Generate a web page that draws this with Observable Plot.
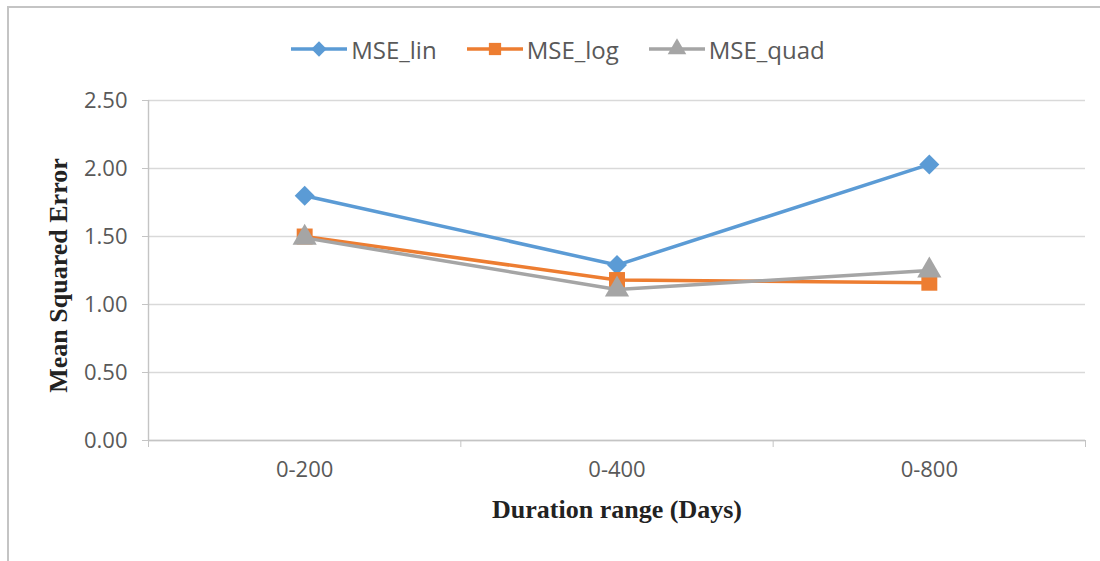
<!DOCTYPE html>
<html>
<head>
<meta charset="utf-8">
<script src="https://cdn.jsdelivr.net/npm/d3@7"></script>
<script src="https://cdn.jsdelivr.net/npm/@observablehq/plot@0.6"></script>
<style>
  html, body { margin: 0; padding: 0; background: #fff; }
  #wrap { position: relative; width: 1100px; height: 561px; overflow: hidden; background: #fff; }
  #frame { position: absolute; left: 7px; top: 6px; width: 1100px; height: 600px; border-left: 2px solid #c4c4c4; border-top: 2px solid #c4c4c4; box-sizing: border-box; }
  #chart { position: absolute; left: 0; top: 0; }
  #legend { position: absolute; left: 0; top: 31px; width: 1116px; display: flex; justify-content: center; gap: 30px;
            font-family: "Open Sans", sans-serif; font-size: 24px; color: #595959; }
  .item { display: flex; align-items: center; gap: 4px; height: 36px; }
  .item svg { display: block; }
</style>
</head>
<body>
<div id="wrap">
  <div id="frame"></div>
  <div id="chart"></div>
  <div id="legend"></div>
</div>
<script>
const categories = ["0-200", "0-400", "0-800"];
const seriesNames = ["MSE_lin", "MSE_log", "MSE_quad"];
const mseLin = [1.80, 1.29, 2.03];
const mseLog = [1.50, 1.18, 1.16];
const mseQuad = [1.49, 1.11, 1.25];
const yTicks = [0, 0.5, 1.0, 1.5, 2.0, 2.5];
const colors = ["#5b9bd5", "#ed7d31", "#a5a5a5"];
const symbols = ["diamond2", "square", "triangle"];

const seriesValues = [mseLin, mseLog, mseQuad];
const rows = [];
seriesNames.forEach((s, k) => seriesValues[k].forEach((v, i) => rows.push({series: s, i, cat: categories[i], value: v})));
const idx = d3.range(categories.length);
const bounds = d3.range(categories.length + 1).map(i => i - 0.5);

const marks = [
  Plot.gridY(yTicks, {stroke: "#d9d9d9", strokeOpacity: 1, strokeWidth: 1.4}),
  Plot.ruleX([-0.5], {y1: 0, y2: 2.5, stroke: "#c4c4c4", strokeWidth: 1.4}),
  Plot.ruleY([0], {stroke: "#c4c4c4", strokeWidth: 1.4}),
  Plot.axisY(yTicks, {tickFormat: d3.format(".2f"), tickSize: 6, tickPadding: 15, stroke: "#c4c4c4", fontSize: 22, label: null}),
  Plot.axisX(bounds, {tickSize: 7, tickFormat: () => "", stroke: "#c4c4c4", label: null}),
  Plot.axisX(idx, {tickSize: 0, tickPadding: 21, tickFormat: i => categories[i], fontSize: 22, label: null}),
  Plot.text(["Mean Squared Error"], {frameAnchor: "left", textAnchor: "middle", dx: -90, dy: 5, rotate: -90, fontFamily: "Liberation Serif", fontWeight: "bold", fontSize: 26, fill: "#222"}),
  Plot.text(["Duration range (Days)"], {frameAnchor: "bottom", dy: 77, fontFamily: "Liberation Serif", fontWeight: "bold", fontSize: 26, fill: "#222"})
];
seriesNames.forEach(s => {
  const d = rows.filter(r => r.series === s);
  marks.push(Plot.line(d, {x: "i", y: "value", stroke: "series", strokeWidth: 3.5}));
  marks.push(Plot.dot(d, {x: "i", y: "value", fill: "series", symbol: "series", r: 9}));
});

const chart = Plot.plot({
  width: 1100,
  height: 561,
  marginLeft: 148,
  marginRight: 15,
  marginTop: 100,
  marginBottom: 121,
  style: {fontFamily: "'Open Sans', sans-serif", color: "#595959", background: "transparent", overflow: "visible"},
  x: {type: "linear", domain: [-0.5, categories.length - 0.5], axis: null},
  y: {domain: [0, 2.5], axis: null},
  color: {domain: seriesNames, range: colors},
  symbol: {domain: seriesNames, range: symbols},
  marks
});
document.getElementById("chart").appendChild(chart);

// legend
const legend = document.getElementById("legend");
const symMap = {diamond2: d3.symbolDiamond2, square: d3.symbolSquare, triangle: d3.symbolTriangle};
seriesNames.forEach((s, k) => {
  const item = document.createElement("div");
  item.className = "item";
  const svg = d3.create("svg").attr("width", 56).attr("height", 22);
  svg.append("line").attr("x1", 0).attr("x2", 56).attr("y1", 11).attr("y2", 11).attr("stroke", colors[k]).attr("stroke-width", 3.5);
  svg.append("path").attr("transform", "translate(28,11)").attr("d", d3.symbol(symMap[symbols[k]], 150)()).attr("fill", colors[k]);
  item.appendChild(svg.node());
  const t = document.createElement("span");
  t.textContent = s;
  item.appendChild(t);
  legend.appendChild(item);
});
</script>
</body>
</html>
